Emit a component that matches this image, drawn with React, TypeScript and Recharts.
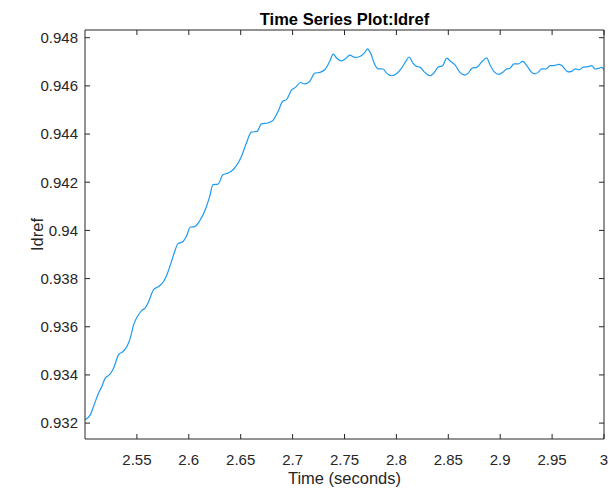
import { Label, Line, LineChart, XAxis, YAxis } from 'recharts';

// sample times (s) and Idref values
const times = [
  2.5, 2.5051, 2.5082, 2.5131, 2.5162, 2.5195, 2.5237, 2.5275, 2.5324, 2.5365,
  2.5404, 2.5436, 2.5468, 2.5516, 2.5548, 2.5581, 2.5613, 2.5661, 2.5709, 2.5757,
  2.5789, 2.5828, 2.587, 2.5895, 2.5944, 2.5976, 2.6015, 2.6056, 2.6105, 2.6169,
  2.6201, 2.6233, 2.6281, 2.6329, 2.6378, 2.6426, 2.6507, 2.6555, 2.6603, 2.6657,
  2.67, 2.6763, 2.6811, 2.686, 2.6905, 2.6941, 2.6989, 2.703, 2.7076, 2.7117,
  2.7165, 2.7214, 2.7262, 2.731, 2.7358, 2.739, 2.7423, 2.7471, 2.751, 2.7551,
  2.7599, 2.7648, 2.7696, 2.7722, 2.7751, 2.7792, 2.7824, 2.7872, 2.7905, 2.7953,
  2.8001, 2.805, 2.8091, 2.8123, 2.8156, 2.8194, 2.8226, 2.8274, 2.8323, 2.8354,
  2.8403, 2.8445, 2.8486, 2.852, 2.8564, 2.8612, 2.866, 2.8692, 2.873, 2.8773,
  2.8821, 2.8869, 2.8901, 2.8943, 2.8988, 2.9029, 2.9062, 2.9094, 2.9133, 2.9174,
  2.9217, 2.9261, 2.9303, 2.9335, 2.9374, 2.94, 2.9441, 2.948, 2.9528, 2.956,
  2.9593, 2.9615, 2.9656, 2.9689, 2.9721, 2.9762, 2.9801, 2.9849, 2.9882, 2.9914,
  2.9955, 2.9978, 3.0,
];

const idref = [
  0.93214, 0.93234, 0.93269, 0.93325, 0.93352, 0.93387, 0.93401, 0.93428, 0.93484, 0.93497,
  0.93518, 0.93553, 0.93608, 0.9365, 0.93668, 0.93678, 0.93705, 0.93754, 0.93767, 0.93788,
  0.93816, 0.93864, 0.9392, 0.93945, 0.93954, 0.93975, 0.94014, 0.94016, 0.9404, 0.94097,
  0.94141, 0.9419, 0.94192, 0.94231, 0.94238, 0.94252, 0.94307, 0.94363, 0.94408, 0.94411,
  0.94442, 0.94446, 0.94457, 0.94494, 0.94536, 0.94543, 0.94582, 0.94595, 0.94614, 0.94608,
  0.94619, 0.94653, 0.94656, 0.94667, 0.94702, 0.94732, 0.94716, 0.94704, 0.94713, 0.94728,
  0.94718, 0.94722, 0.94739, 0.94754, 0.94736, 0.94688, 0.94671, 0.9467, 0.94653, 0.94642,
  0.9465, 0.94674, 0.94702, 0.9472, 0.94697, 0.94681, 0.94678, 0.94656, 0.94642, 0.9465,
  0.94678, 0.94684, 0.94715, 0.94702, 0.94687, 0.94656, 0.94645, 0.94653, 0.94674, 0.94677,
  0.94699, 0.94716, 0.94688, 0.94658, 0.94648, 0.94658, 0.9467, 0.94673, 0.94691, 0.94691,
  0.94702, 0.94681, 0.94656, 0.9465, 0.9466, 0.94671, 0.9467, 0.94684, 0.94685, 0.94689,
  0.94685, 0.94674, 0.94658, 0.9466, 0.94671, 0.94667, 0.94678, 0.9468, 0.94684, 0.9467,
  0.94674, 0.94677, 0.94667,
];

const xTicks = [2.55, 2.6, 2.65, 2.7, 2.75, 2.8, 2.85, 2.9, 2.95, 3];
const yTicks = [0.932, 0.934, 0.936, 0.938, 0.94, 0.942, 0.944, 0.946, 0.948];

const axisColor = '#262626';
const lineColor = '#1e9bf0';
const tickStyle = { fill: axisColor, fontSize: 15 };

const rows = times.map((t, i) => ({ t, v: idref[i] }));

const emptyTick = () => <g />;

export default function App() {
  return (
    <div style={{ position: 'absolute', left: 0, top: 0, fontFamily: '"Liberation Sans", Arial, sans-serif', background: '#fff' }}>
      <LineChart width={613} height={489} data={rows} margin={{ top: 29, right: 8, bottom: 0, left: 0 }}>
        <XAxis
          dataKey="t"
          type="number"
          domain={[2.5, 3]}
          allowDataOverflow
          ticks={xTicks}
          interval={0}
          tickFormatter={(v) => String(Number(Number(v).toFixed(2)))}
          height={50}
          tickSize={-5}
          tickMargin={20}
          tick={tickStyle}
          stroke={axisColor}
        >
          <Label value="Time (seconds)" position="insideBottom" offset={5.5} fill={axisColor} fontSize={16.5} />
        </XAxis>
        <XAxis
          xAxisId="top"
          dataKey="t"
          type="number"
          orientation="top"
          domain={[2.5, 3]}
          allowDataOverflow
          ticks={xTicks}
          interval={0}
          height={1}
          tickSize={-5}
          tick={emptyTick}
          stroke={axisColor}
        >
          <Label value="Time Series Plot:Idref" position="top" offset={4.5} fill="#000" fontSize={16.5} fontWeight="bold" />
        </XAxis>
        <YAxis
          type="number"
          domain={[0.93134, 0.94832]}
          allowDataOverflow
          ticks={yTicks}
          interval={0}
          tickFormatter={(v) => String(Number(Number(v).toFixed(3)))}
          width={85}
          tickSize={-5}
          tickMargin={12}
          tick={tickStyle}
          stroke={axisColor}
        >
          <Label value="Idref" angle={-90} position="center" dx={-5.5} fill={axisColor} fontSize={16.5} />
        </YAxis>
        <YAxis
          yAxisId="right"
          type="number"
          orientation="right"
          domain={[0.93134, 0.94832]}
          allowDataOverflow
          ticks={yTicks}
          interval={0}
          width={1}
          tickSize={-5}
          tick={emptyTick}
          stroke={axisColor}
        />
        <Line
          dataKey="v"
          type="monotone"
          stroke={lineColor}
          strokeWidth={1.2}
          dot={false}
          activeDot={false}
          isAnimationActive={false}
        />
      </LineChart>
    </div>
  );
}
